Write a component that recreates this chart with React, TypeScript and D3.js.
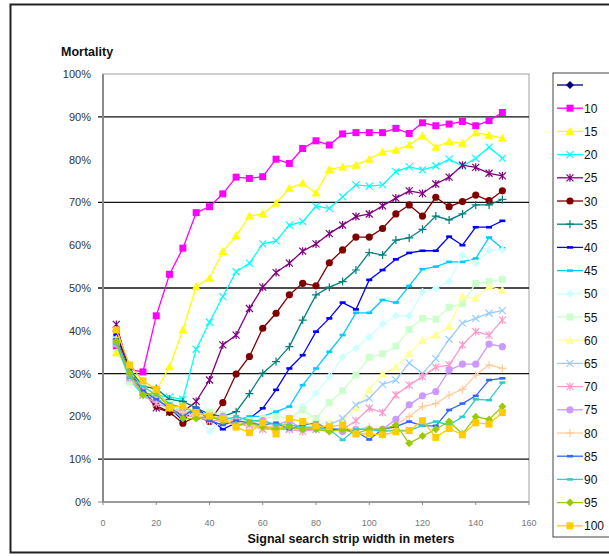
import * as d3 from 'd3';

// x positions: strip width in meters
const widths = d3.range(5, 151, 5);

const seriesNames = ['', '10', '15', '20', '25', '30', '35', '40', '45', '50', '55', '60', '65', '70', '75', '80', '85', '90', '95', '100'];

// mortality (%) per series, one value per width (first series has no plotted data)
const s0: number[] = [];
const s10 = [36.5, 31, 30.4, 43.5, 53.2, 59.3, 67.6, 69, 72, 75.9, 75.6, 76, 80.1, 79.1, 82.6, 84.4, 83.4, 86, 86.3, 86.3, 86.3, 87.3, 86.1, 88.6, 87.9, 88.3, 88.9, 87.9, 89.1, 91];
const s15 = [34.9, 31, 27.5, 26, 31.6, 40.2, 50.3, 52.3, 58.5, 62.2, 66.8, 67.3, 69.8, 73.3, 74.5, 72.2, 77.7, 78.3, 78.7, 80.1, 81.8, 82.2, 83.4, 85.5, 82.9, 84.2, 83.8, 86.3, 85.7, 85];
const s20 = [38, 28.5, 25, 25, 24.5, 24, 35.7, 42, 48, 53.8, 55.8, 60.3, 61, 64.7, 65.5, 69.1, 68.6, 71.3, 74.1, 73.8, 74.1, 77.2, 78.3, 77.6, 78.5, 80.1, 78.5, 80.3, 82.9, 80.3];
const s25 = [41.5, 30.5, 26, 22, 21, 21, 23.5, 28.5, 36.7, 39, 45.2, 50.2, 53.6, 55.8, 58.6, 60.3, 62.7, 64.7, 66.7, 67.3, 69.2, 71, 72.7, 72.1, 74.3, 75.9, 78.7, 78.2, 76.8, 76.2];
const s30 = [40, 30, 26, 22.5, 21, 18.4, 20, 18.8, 23.2, 29.9, 34, 40.6, 44.1, 48.4, 51.1, 50.5, 55.9, 58.9, 61.9, 61.9, 63.9, 67.3, 69.4, 66.8, 71.2, 69, 70.2, 71.7, 70.4, 72.7];
const s35 = [38, 31, 27, 26.5, 24, 23.5, 22, 20.5, 20, 21.1, 25.3, 30.1, 32.8, 36.3, 42.5, 48.4, 50.2, 51.5, 54.2, 58.3, 57.7, 61.2, 61.7, 63.7, 66.8, 65.9, 67.3, 69.4, 69.4, 70.7];
const s40 = [39, 30, 26, 24, 22, 19, 22, 19.5, 17, 18.5, 19.5, 21.9, 26.2, 31.2, 34.3, 39.8, 42.9, 46.6, 45, 51.9, 54.2, 56.7, 58.2, 58.7, 58.7, 62, 60, 64.2, 64.2, 65.7];
const s45 = [38, 30, 25, 24, 23, 21, 21, 20, 19, 19, 20, 20, 21.1, 22.3, 27.3, 31.2, 35.1, 39, 44.2, 44.2, 47.2, 46.6, 50.5, 54.4, 55, 56.1, 56.1, 56.9, 61.8, 59.3];
const s50 = [37, 29, 26, 24, 22, 21, 20, 16.5, 19, 18.5, 18, 18, 18, 19, 22.3, 25.4, 29.3, 33.9, 35.9, 38.5, 41.6, 43.5, 43.5, 49.1, 49.9, 51.5, 57.7, 55.8, 58.9, 58.9];
const s55 = [37, 28, 27, 25, 23, 21, 20, 21, 20.5, 19, 19, 19.5, 20, 19.5, 21.5, 19.5, 23.2, 26, 29.7, 33.8, 34.6, 36.4, 40.3, 42.9, 42.7, 45.5, 46.3, 51.1, 51.5, 52];
const s60 = [38, 30, 26, 25, 22, 21, 20, 20, 19, 18, 18, 17.5, 18, 17.5, 18, 18, 18.5, 19, 22, 26.3, 29.9, 31.5, 34.7, 37.7, 39, 41, 48, 47.6, 50.3, 49.5];
const s65 = [38, 30, 26, 24, 22, 21, 20, 19, 19, 18, 18, 17, 17.5, 17, 17.5, 17, 18, 19.5, 22.7, 24.2, 27.5, 28.5, 32.5, 30, 33.5, 38, 41.8, 42.9, 44.1, 44.7];
const s70 = [37, 29, 25, 23, 22, 20, 20, 19, 19, 18, 18, 17, 17, 17, 16.5, 17, 17, 17, 19, 21.9, 20.9, 25, 27.3, 29.3, 31.5, 32, 36.7, 39.8, 39, 42.5];
const s75 = [37, 29, 26, 24, 22, 21, 20, 19.5, 20, 19, 18.5, 19, 18, 19, 17, 17.5, 17, 16.5, 17, 17, 17, 19.3, 22.7, 24.8, 25.8, 30.8, 32.2, 32.2, 36.9, 36.3];
const s80 = [38, 29, 26, 24, 22, 21, 20, 20, 19, 19, 18, 17, 18, 17, 17, 17, 16.5, 17, 17, 17.5, 16, 18, 20, 22.3, 23, 25, 26.3, 29.7, 32, 31.2];
const s85 = [38, 30, 26, 24, 22, 20, 22, 19, 18, 19, 18.5, 18, 18.5, 17, 18, 18.5, 17, 17, 16.5, 14.6, 17, 17.6, 18.8, 17.8, 17.8, 21.5, 23, 24.8, 28.5, 28.9];
const s90 = [37, 29, 27, 25, 23, 22, 21, 20, 19, 20, 19, 19, 18, 18, 17.5, 17.5, 17, 14.5, 17, 17, 16.5, 16.7, 16.7, 17.9, 18.8, 18, 19.9, 24, 23.8, 27.9];
const s95 = [37.5, 30, 25, 25.5, 22, 19.5, 19.5, 20, 19, 18, 18.5, 17.5, 17, 17.5, 17, 17, 16.5, 17, 16, 17, 17, 18, 13.7, 15.4, 17, 18.8, 15.9, 19.9, 19.3, 22.3];
const s100 = [40.2, 32, 28.3, 26.3, 22.1, 22.4, 20.9, 20.1, 19.5, 17.5, 16.2, 18.5, 15.9, 19.5, 18.8, 17.8, 17.6, 18, 15.9, 15.9, 15.7, 16.4, 16.7, 19, 15.1, 17.2, 15.7, 18.5, 18.2, 20.9];

const seriesValues = [s0, s10, s15, s20, s25, s30, s35, s40, s45, s50, s55, s60, s65, s70, s75, s80, s85, s90, s95, s100];

const colors = ['#000080', '#ff00ff', '#ffff00', '#00ffff', '#800080', '#800000', '#008080', '#0000ff', '#00ccff', '#ccffff',
  '#ccffcc', '#ffff99', '#99ccff', '#ff99cc', '#cc99ff', '#ffcc99', '#3366ff', '#33cccc', '#99cc00', '#ffcc00'];
const markers = ['diamond', 'square', 'triangle', 'x', 'star', 'circle', 'plus', 'dash', 'dash', 'diamond',
  'square', 'triangle', 'x', 'star', 'circle', 'plus', 'dash', 'dash', 'diamond', 'square'];

const yTicks = d3.range(0, 101, 10);
const gridTicks = [10, 30, 50, 70, 90];
const xTicks = d3.range(0, 161, 20);

const W = 609;
const H = 556;
const plot = { left: 103, right: 529, top: 74, bottom: 502 };

const x = d3.scaleLinear().domain([0, 160]).range([plot.left, plot.right]);
const y = d3.scaleLinear().domain([0, 100]).range([plot.bottom, plot.top]);

function Marker({ kind, cx, cy, color }: { kind: string; cx: number; cy: number; color: string }) {
  switch (kind) {
    case 'square':
      return <rect x={cx - 3.5} y={cy - 3.5} width={7} height={7} fill={color} />;
    case 'diamond':
      return <path d={`M${cx},${cy - 4}L${cx + 4},${cy}L${cx},${cy + 4}L${cx - 4},${cy}Z`} fill={color} />;
    case 'triangle':
      return <path d={`M${cx},${cy - 4.5}L${cx + 4.5},${cy + 3.5}L${cx - 4.5},${cy + 3.5}Z`} fill={color} />;
    case 'circle':
      return <circle cx={cx} cy={cy} r={3.6} fill={color} />;
    case 'x':
      return <path d={`M${cx - 3.5},${cy - 3.5}L${cx + 3.5},${cy + 3.5}M${cx + 3.5},${cy - 3.5}L${cx - 3.5},${cy + 3.5}`} stroke={color} strokeWidth={1.2} />;
    case 'star':
      return <path d={`M${cx - 3.5},${cy - 3.5}L${cx + 3.5},${cy + 3.5}M${cx + 3.5},${cy - 3.5}L${cx - 3.5},${cy + 3.5}M${cx},${cy - 4}L${cx},${cy + 4}`} stroke={color} strokeWidth={1.2} />;
    case 'plus':
      return <path d={`M${cx - 4},${cy}L${cx + 4},${cy}M${cx},${cy - 4}L${cx},${cy + 4}`} stroke={color} strokeWidth={1.2} />;
    case 'dash':
      return <rect x={cx - 3} y={cy - 1.3} width={6} height={2.6} fill={color} />;
    default:
      return null;
  }
}

export default function App() {
  const line = d3.line<number>().x((_, i) => x(widths[i])).y(d => y(d));
  const font = 'Arial, "Liberation Sans", sans-serif';

  return (
    <svg width={W} height={H} style={{ position: 'absolute', left: 0, top: 0, background: '#fff' }} fontFamily={font}>
      {/* outer frame */}
      <rect x={10.5} y={4.5} width={620} height={548} fill="#fff" stroke="#222" strokeWidth={2} />

      {/* plot border */}
      <rect x={plot.left} y={plot.top} width={plot.right - plot.left} height={plot.bottom - plot.top} fill="none" stroke="#a0a0a0" strokeWidth={1} />

      {/* gridlines */}
      {gridTicks.map(t => (
        <line key={t} x1={plot.left - 5} x2={plot.right} y1={y(t)} y2={y(t)} stroke="#111" strokeWidth={1.3} />
      ))}
      <line x1={plot.left - 5} x2={plot.left} y1={y(0)} y2={y(0)} stroke="#888" />

      {/* axes */}
      <line x1={plot.left} x2={plot.left} y1={plot.top} y2={plot.bottom} stroke="#8a8a8a" strokeWidth={2} />
      <line x1={plot.left} x2={plot.right} y1={plot.bottom} y2={plot.bottom} stroke="#8a8a8a" strokeWidth={1.5} />

      {yTicks.map(t => (
        <text key={t} x={91} y={y(t) + 4} textAnchor="end" fontSize={11} fill="#333">{t}%</text>
      ))}
      {xTicks.map(t => (
        <g key={t}>
          <line x1={x(t)} x2={x(t)} y1={plot.bottom} y2={plot.bottom + 3} stroke="#8a8a8a" />
          <text x={x(t)} y={plot.bottom + 24} textAnchor="middle" fontSize={9} fill="#777">{t}</text>
        </g>
      ))}

      {/* series */}
      {seriesValues.map((vals, si) => (
        <g key={si}>
          {vals.length > 0 && <path d={line(vals) ?? ''} fill="none" stroke={colors[si]} strokeWidth={1.3} />}
          {vals.map((v, i) => (
            <Marker key={i} kind={markers[si]} cx={x(widths[i])} cy={y(v)} color={colors[si]} />
          ))}
        </g>
      ))}

      {/* titles */}
      <text x={61} y={56} fontSize={12.5} fontWeight="bold" fill="#111">Mortality</text>
      <text x={351} y={543} textAnchor="middle" fontSize={12.5} fontWeight="bold" fill="#111">Signal search strip width in meters</text>

      {/* legend */}
      <rect x={553} y={73} width={70} height={464} fill="#fff" stroke="#444" strokeWidth={1} />
      {seriesNames.map((name, si) => {
        const ly = 85 + si * 23.2;
        return (
          <g key={si}>
            <line x1={557} x2={583} y1={ly} y2={ly} stroke={colors[si]} strokeWidth={1.3} />
            <Marker kind={markers[si]} cx={570} cy={ly} color={colors[si]} />
            <text x={584} y={ly + 4.5} fontSize={12} fill="#111">{name}</text>
          </g>
        );
      })}
    </svg>
  );
}
